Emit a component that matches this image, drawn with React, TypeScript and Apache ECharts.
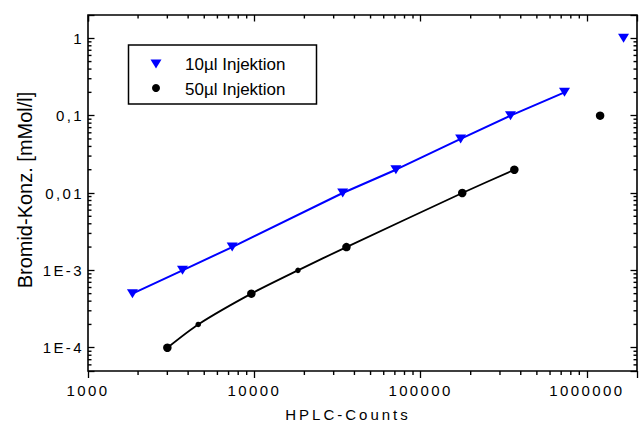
import React, { useEffect, useRef } from 'react';
import * as echarts from 'echarts';

// Axis ranges
const X_MIN = 1000;
const X_MAX = 2000000;
const Y_MIN = 5e-5;
const Y_MAX = 2;

// Tick labels
const X_LABEL_VALUES = [1000, 10000, 100000, 1000000];
const X_LABELS = ['1000', '10000', '100000', '1000000'];
const Y_LABEL_VALUES = [1e-4, 1e-3, 0.01, 0.1, 1];
const Y_LABELS = ['1E-4', '1E-3', '0,01', '0,1', '1'];

// 10µl injection
const INJ10_COUNTS = [1850, 3700, 7360, 34000, 71000, 174000, 347000, 733000];
const INJ10_CONC = [5e-4, 1e-3, 2e-3, 0.01, 0.02, 0.05, 0.1, 0.2];
const INJ10_EXTRA_COUNTS = [1660000];
const INJ10_EXTRA_CONC = [1];

// 50µl injection
const INJ50_COUNTS = [3000, 4600, 9600, 18300, 35800, 178000, 366000];
const INJ50_CONC = [1e-4, 2e-4, 5e-4, 1e-3, 2e-3, 0.01, 0.02];
const INJ50_SIZES = [8.5, 5.5, 8.5, 5.5, 8.5, 8.5, 8.5];
const INJ50_EXTRA_COUNTS = [1200000];
const INJ50_EXTRA_CONC = [0.1];

const LEGEND_NAMES = ['10µl Injektion', '50µl Injektion'];
const X_TITLE = 'HPLC-Counts';
const Y_TITLE = 'Bromid-Konz. [mMol/l]';

const FONT = '"Liberation Sans", Arial, Helvetica, sans-serif';
const BLUE = '#0000ff';
const BLACK = '#000000';
const TICK_W = 1.4;

// minor tick values (2..9 x 10^n) inside a range
function minorLogTicks(min: number, max: number): number[] {
  const out: number[] = [];
  const e0 = Math.floor(Math.log10(min));
  const e1 = Math.ceil(Math.log10(max));
  for (let e = e0; e <= e1; e++) {
    for (let k = 2; k <= 9; k++) {
      const v = k * Math.pow(10, e);
      if (v > min * 1.0001 && v < max * 0.9999) out.push(v);
    }
  }
  return out;
}

function labelFor(v: number, values: number[], labels: string[]): string {
  for (let i = 0; i < values.length; i++) {
    if (Math.abs(Math.log10(v) - Math.log10(values[i])) < 1e-6) return labels[i];
  }
  return '';
}

function baseAxis(min: number, max: number) {
  return {
    type: 'log',
    logBase: 10,
    min,
    max,
    axisLine: { show: false },
    splitLine: { show: false },
  };
}

export default function App() {
  const ref = useRef<HTMLDivElement>(null);

  useEffect(() => {
    if (!ref.current) return;
    const chart = echarts.init(ref.current, undefined, { renderer: 'svg' });

    const tickLine = { color: BLACK, width: 1.3 };

    const option: any = {
      animation: false,
      backgroundColor: '#ffffff',
      grid: {
        left: 88,
        right: 2,
        top: 15,
        bottom: 52,
        show: true,
        borderColor: BLACK,
        borderWidth: 1.6,
      },
      xAxis: [
        {
          ...baseAxis(X_MIN, X_MAX),
          position: 'bottom',
          axisTick: { show: true, inside: false, length: 7, lineStyle: tickLine },
          axisLabel: {
            show: true,
            margin: 12,
            color: BLACK,
            fontSize: 15,
            fontFamily: FONT,
            formatter: (v: number) => labelFor(v, X_LABEL_VALUES, X_LABELS),
          },
        },
        {
          ...baseAxis(X_MIN, X_MAX),
          position: 'top',
          axisTick: { show: true, inside: true, length: 6.5, lineStyle: tickLine },
          axisLabel: { show: false },
        },
      ],
      yAxis: [
        {
          ...baseAxis(Y_MIN, Y_MAX),
          position: 'left',
          axisTick: { show: true, inside: true, length: 6.5, lineStyle: tickLine },
          axisLabel: {
            show: true,
            margin: 4,
            color: BLACK,
            fontSize: 15,
            fontFamily: FONT,
            formatter: (v: number) => labelFor(v, Y_LABEL_VALUES, Y_LABELS),
          },
        },
        {
          ...baseAxis(Y_MIN, Y_MAX),
          position: 'right',
          axisTick: { show: true, inside: true, length: 6.5, lineStyle: tickLine },
          axisLabel: { show: false },
        },
      ],
      series: [
        {
          type: 'line',
          name: LEGEND_NAMES[0],
          data: INJ10_COUNTS.map((c, i) => [c, INJ10_CONC[i]]),
          symbol: 'triangle',
          symbolRotate: 180,
          symbolSize: [11, 9],
          showSymbol: true,
          lineStyle: { color: BLUE, width: 2 },
          itemStyle: { color: BLUE },
        },
        {
          type: 'line',
          name: LEGEND_NAMES[0],
          data: INJ10_EXTRA_COUNTS.map((c, i) => [c, INJ10_EXTRA_CONC[i]]),
          symbol: 'triangle',
          symbolRotate: 180,
          symbolSize: [11, 9],
          showSymbol: true,
          lineStyle: { width: 0 },
          itemStyle: { color: BLUE },
        },
        {
          type: 'line',
          name: LEGEND_NAMES[1],
          data: INJ50_COUNTS.map((c, i) => ({ value: [c, INJ50_CONC[i]], symbolSize: INJ50_SIZES[i] })),
          symbol: 'circle',
          showSymbol: true,
          smooth: 0.25,
          lineStyle: { color: BLACK, width: 1.8 },
          itemStyle: { color: BLACK },
        },
        {
          type: 'line',
          name: LEGEND_NAMES[1],
          data: INJ50_EXTRA_COUNTS.map((c, i) => [c, INJ50_EXTRA_CONC[i]]),
          symbol: 'circle',
          symbolSize: 8.5,
          showSymbol: true,
          lineStyle: { width: 0 },
          itemStyle: { color: BLACK },
        },
      ],
    };

    chart.setOption(option);

    // Minor ticks on all four sides, positioned through the chart's own log scales
    const toPx = (x: number, y: number) => chart.convertToPixel({ gridIndex: 0 }, [x, y]) as number[];
    const hw = TICK_W / 2;
    const els: any[] = [];
    minorLogTicks(X_MIN, X_MAX).forEach((v) => {
      const b = toPx(v, Y_MIN);
      const t = toPx(v, Y_MAX);
      els.push({ type: 'rect', shape: { x: b[0] - hw, y: b[1], width: TICK_W, height: 4 }, style: { fill: BLACK } });
      els.push({ type: 'rect', shape: { x: t[0] - hw, y: t[1], width: TICK_W, height: 3.5 }, style: { fill: BLACK } });
    });
    minorLogTicks(Y_MIN, Y_MAX).forEach((v) => {
      const l = toPx(X_MIN, v);
      const r = toPx(X_MAX, v);
      els.push({ type: 'rect', shape: { x: l[0], y: l[1] - hw, width: 3.5, height: TICK_W }, style: { fill: BLACK } });
      els.push({ type: 'rect', shape: { x: r[0] - 3.5, y: r[1] - hw, width: 3.5, height: TICK_W }, style: { fill: BLACK } });
    });

    // Legend box and axis titles
    els.push(
      {
        type: 'rect',
        shape: { x: 128.5, y: 45, width: 188, height: 59 },
        style: { fill: '#ffffff', stroke: BLACK, lineWidth: 1.5 },
      },
      {
        type: 'polygon',
        shape: { points: [[150.5, 59.5], [161.5, 59.5], [156, 68.5]] },
        style: { fill: BLUE },
      },
      {
        type: 'circle',
        shape: { cx: 156, cy: 88, r: 4 },
        style: { fill: BLACK },
      },
      {
        type: 'text',
        x: 185,
        y: 64.5,
        style: { text: LEGEND_NAMES[0], font: `17px ${FONT}`, fill: BLACK, align: 'left', verticalAlign: 'middle' },
      },
      {
        type: 'text',
        x: 185,
        y: 89,
        style: { text: LEGEND_NAMES[1], font: `17px ${FONT}`, fill: BLACK, align: 'left', verticalAlign: 'middle' },
      },
      {
        type: 'text',
        x: 348,
        y: 414.5,
        style: { text: X_TITLE, font: `15px ${FONT}`, fill: BLACK, align: 'center', verticalAlign: 'middle' },
      },
      {
        type: 'text',
        x: 25,
        y: 190,
        rotation: Math.PI / 2,
        style: { text: Y_TITLE, font: `20px ${FONT}`, fill: BLACK, align: 'center', verticalAlign: 'middle' },
      }
    );

    chart.setOption({ graphic: { elements: els } });

    const spaced: Record<string, string> = {};
    [...X_LABELS, ...Y_LABELS].forEach((s) => (spaced[s] = '2.4'));
    spaced[X_TITLE] = '3';
    const applySpacing = () => {
      const el = ref.current;
      if (!el) return;
      el.querySelectorAll('text').forEach((t) => {
        const s = (t.textContent || '').trim();
        if (Object.prototype.hasOwnProperty.call(spaced, s)) t.setAttribute('letter-spacing', spaced[s]);
      });
    };
    applySpacing();
    const timer = window.setTimeout(applySpacing, 50);

    return () => {
      window.clearTimeout(timer);
      chart.dispose();
    };
  }, []);

  return (
    <div
      ref={ref}
      style={{ position: 'fixed', left: 0, top: 0, width: 640, height: 423, background: '#fff' }}
    />
  );
}
